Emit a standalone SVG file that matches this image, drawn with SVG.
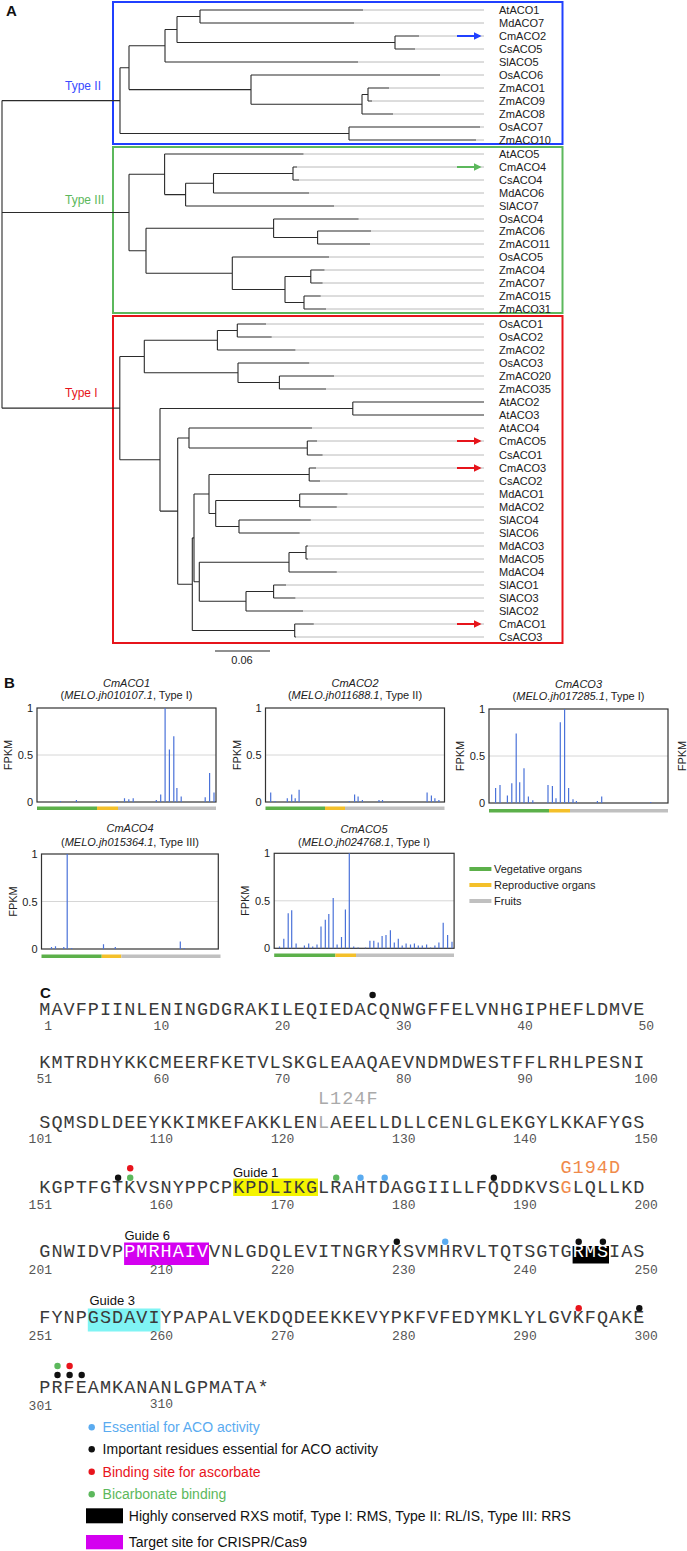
<svg xmlns="http://www.w3.org/2000/svg" width="687" height="1551" viewBox="0 0 687 1551">
<defs>
<style>
.pl{font-family:"Liberation Sans",Arial,sans-serif;font-weight:bold;font-size:15px;fill:#111}
.lab{font-family:"Liberation Sans",Arial,sans-serif;font-size:11px;fill:#222}
.typ{font-family:"Liberation Sans",Arial,sans-serif;font-size:12px}
.br{stroke:#2b2b2b;stroke-width:1.1;fill:none}
.gr{stroke:#bababa;stroke-width:1;fill:none}
.box{fill:none;stroke-width:2}
.frame{fill:none;stroke:#333;stroke-width:1.2}
.grid{stroke:#d6d6d6;stroke-width:1}
.bar{stroke:#4a72d9;stroke-width:1.2;fill:none}
.ax{font-family:"Liberation Sans",Arial,sans-serif;font-size:11px;fill:#222;text-anchor:end}
.fp{font-family:"Liberation Sans",Arial,sans-serif;font-size:11px;fill:#222;text-anchor:middle}
.tt{font-family:"Liberation Sans",Arial,sans-serif;font-size:11px;fill:#222;text-anchor:middle}
.it{font-style:italic}
.veg{fill:#5cb04a}.rep{fill:#f4c02a}.fru{fill:#c0c0c0}
.seq{font-family:"Liberation Mono","Courier New",monospace;font-size:18.5px;letter-spacing:1.02px;fill:#3a3a3a}
.num{font-family:"Liberation Mono","Courier New",monospace;font-size:13px;fill:#555;text-anchor:middle}
.num .f{text-anchor:end}
.gd{font-family:"Liberation Sans",Arial,sans-serif;font-size:13px;fill:#111}
.leg{font-family:"Liberation Sans",Arial,sans-serif;font-size:14px}
.dk{fill:#111}.db{fill:#5aabf0}.dr{fill:#e8141c}.dg{fill:#5cb85c}
.w{fill:#fff}
.arB{stroke:#2040ff;stroke-width:2;marker-end:url(#ahB)}
.arG{stroke:#5cb85c;stroke-width:2;marker-end:url(#ahG)}
.arR{stroke:#e6141b;stroke-width:2;marker-end:url(#ahR)}
</style>
<marker id="ahB" viewBox="0 0 10 10" refX="8" refY="5" markerWidth="4" markerHeight="4" orient="auto"><path d="M0,0L10,5L0,10z" fill="#2040ff"/></marker>
<marker id="ahG" viewBox="0 0 10 10" refX="8" refY="5" markerWidth="4" markerHeight="4" orient="auto"><path d="M0,0L10,5L0,10z" fill="#5cb85c"/></marker>
<marker id="ahR" viewBox="0 0 10 10" refX="8" refY="5" markerWidth="4" markerHeight="4" orient="auto"><path d="M0,0L10,5L0,10z" fill="#e6141b"/></marker>
</defs>
<rect width="687" height="1551" fill="#fff"/>

<!-- Panel A -->
<g id="panelA">
<text class="pl" x="6" y="16">A</text>
<rect class="box" x="113" y="2" width="449.5" height="142" stroke="#2040ff"/>
<rect class="box" x="113" y="147" width="449.5" height="166" stroke="#5cb85c"/>
<rect class="box" x="113" y="316" width="449.5" height="327" stroke="#e6141b"/>
<text class="typ" x="65" y="90" fill="#3a4cff">Type II</text>
<text class="typ" x="65" y="204" fill="#5cb85c">Type III</text>
<text class="typ" x="65" y="397" fill="#e6141b">Type I</text>
<g id="connectors">
<path class="gr" d="M363 10H484M354 23H484M419 36H484M415 49H484M358 62H484M440 75H484M389 88H484M372 101H484M393 114H484M480 127H484M476 140H484M303.5 154H484M297 167H484M299 180H484M309 193H484M334 206H484M358.6 219H484M371 231H484M370 244H484M329 257H484M324.5 270H484M322.6 283H484M320.7 296H484M326 309H484M266 324H484M271.7 337H484M295.4 350H484M309.2 363H484M334 376H484M326 389H484M312 428H484M317 441H484M322.6 455H484M316 468H484M320 481H484M347.5 494H484M336.8 507H484M310.8 520H484M299.7 533H484M308 546H484M308 559H484M336.8 572H484M286 585H484M295.4 598H484M303 611H484M313.8 624H484M296 637H484"/>
<path class="br" d="M200 10V23M200 10H363M200 23H354M395 36V49M395 36H419M395 49H415M177 16.5V42.5M177 16.5H200M177 42.5H395M165 29.5V62M165 29.5H177M165 62H358M368 88V101M368 88H389M368 101H372M362 94.5V114M362 94.5H368M362 114H393M251 75V104.25M251 75H440M251 104.25H362M129 45.75V89.6M129 45.75H165M129 89.6H251M349 127V140M349 127H480M349 140H476M120 67.7V133.5M120 67.7H129M120 133.5H349M2 100.6H120"/>
<path class="br" d="M293 167V180M293 167H297M293 180H299M213.5 173.5V193M213.5 173.5H293M213.5 193H309M185.6 183.25V206M185.6 183.25H213.5M185.6 206H334M164.6 154V194.6M164.6 154H303.5M164.6 194.6H185.6M317.6 231V244M317.6 231H371M317.6 244H370M273.6 219V237.5M273.6 219H358.6M273.6 237.5H317.6M310.8 270V283M310.8 270H324.5M310.8 283H322.6M304 296V309M304 296H320.7M304 309H326M285 276.5V302.5M285 276.5H310.8M285 302.5H304M232.3 257V289.5M232.3 257H329M232.3 289.5H285M146 228.25V273.25M146 228.25H273.6M146 273.25H232.3M129 174.3V250.75M129 174.3H164.6M129 250.75H146M2 212.5H129"/>
<path class="br" d="M237.3 324V337M237.3 324H266M237.3 337H271.7M217.4 330.5V350M217.4 330.5H237.3M217.4 350H295.4M279.4 376V389M279.4 376H334M279.4 389H326M238 363V382.5M238 363H309.2M238 382.5H279.4M144.3 340.25V372.75M144.3 340.25H217.4M144.3 372.75H238M352.8 402V415M352.8 402H484M352.8 415H484M307.3 441V455M307.3 441H317M307.3 455H322.6M189 428V448M189 428H312M189 448H307.3M309.2 468V481M309.2 468H316M309.2 481H320M299.7 494V507M299.7 494H347.5M299.7 507H336.8M239 520V533M239 520H310.8M239 533H299.7M215.7 500.5V526.5M215.7 500.5H299.7M215.7 526.5H239M209 474.5V513.5M209 474.5H309.2M209 513.5H215.7M306 546V559M306 546H308M306 559H308M289 552.5V572M289 552.5H306M289 572H336.8M273.6 585V598M273.6 585H286M273.6 598H295.4M246 591.5V611M246 591.5H273.6M246 611H303M199.3 562.25V601.25M199.3 562.25H289M199.3 601.25H246M194 494V581.75M194 494H209M194 581.75H199.3M294.7 624V637M294.7 624H313.8M294.7 637H296M192.3 537.9V630.5M192.3 537.9H194M192.3 630.5H294.7M177.7 438V584.2M177.7 438H189M177.7 584.2H192.3M160 408.5V511.1M160 408.5H352.8M160 511.1H177.7M119.8 356.5V459.8M119.8 356.5H144.3M119.8 459.8H160M2 408.15H119.8M2 100.6V408.15"/>
<path class="arB" d="M457 36H480"/>
<path class="arG" d="M457 167H480"/>
<path class="arR" d="M457 441H480"/>
<path class="arR" d="M457 468H480"/>
<path class="arR" d="M457 624H480"/>
<path d="M215 651H270" stroke="#222" stroke-width="1.2"/>
</g>
<text class="tt" x="242" y="664">0.06</text>
<g class="lab">
<g id="n-AtACO1"><text x="499" y="14">AtACO1</text></g>
<g id="n-MdACO7"><text x="499" y="27">MdACO7</text></g>
<g id="n-CmACO2"><text x="499" y="40">CmACO2</text></g>
<g id="n-CsACO5"><text x="499" y="53">CsACO5</text></g>
<g id="n-SlACO5"><text x="499" y="66">SlACO5</text></g>
<g id="n-OsACO6"><text x="499" y="79">OsACO6</text></g>
<g id="n-ZmACO1"><text x="499" y="92">ZmACO1</text></g>
<g id="n-ZmACO9"><text x="499" y="105">ZmACO9</text></g>
<g id="n-ZmACO8"><text x="499" y="118">ZmACO8</text></g>
<g id="n-OsACO7"><text x="499" y="131">OsACO7</text></g>
<g id="n-ZmACO10"><text x="499" y="144">ZmACO10</text></g>
<g id="n-AtACO5"><text x="499" y="158">AtACO5</text></g>
<g id="n-CmACO4"><text x="499" y="171">CmACO4</text></g>
<g id="n-CsACO4"><text x="499" y="184">CsACO4</text></g>
<g id="n-MdACO6"><text x="499" y="197">MdACO6</text></g>
<g id="n-SlACO7"><text x="499" y="210">SlACO7</text></g>
<g id="n-OsACO4"><text x="499" y="223">OsACO4</text></g>
<g id="n-ZmACO6"><text x="499" y="235">ZmACO6</text></g>
<g id="n-ZmACO11"><text x="499" y="248">ZmACO11</text></g>
<g id="n-OsACO5"><text x="499" y="261">OsACO5</text></g>
<g id="n-ZmACO4"><text x="499" y="274">ZmACO4</text></g>
<g id="n-ZmACO7"><text x="499" y="287">ZmACO7</text></g>
<g id="n-ZmACO15"><text x="499" y="300">ZmACO15</text></g>
<g id="n-ZmACO31"><text x="499" y="313">ZmACO31</text></g>
<g id="n-OsACO1"><text x="499" y="328">OsACO1</text></g>
<g id="n-OsACO2"><text x="499" y="341">OsACO2</text></g>
<g id="n-ZmACO2"><text x="499" y="354">ZmACO2</text></g>
<g id="n-OsACO3"><text x="499" y="367">OsACO3</text></g>
<g id="n-ZmACO20"><text x="499" y="380">ZmACO20</text></g>
<g id="n-ZmACO35"><text x="499" y="393">ZmACO35</text></g>
<g id="n-AtACO2"><text x="499" y="406">AtACO2</text></g>
<g id="n-AtACO3"><text x="499" y="419">AtACO3</text></g>
<g id="n-AtACO4"><text x="499" y="432">AtACO4</text></g>
<g id="n-CmACO5"><text x="499" y="445">CmACO5</text></g>
<g id="n-CsACO1"><text x="499" y="459">CsACO1</text></g>
<g id="n-CmACO3"><text x="499" y="472">CmACO3</text></g>
<g id="n-CsACO2"><text x="499" y="485">CsACO2</text></g>
<g id="n-MdACO1"><text x="499" y="498">MdACO1</text></g>
<g id="n-MdACO2"><text x="499" y="511">MdACO2</text></g>
<g id="n-SlACO4"><text x="499" y="524">SlACO4</text></g>
<g id="n-SlACO6"><text x="499" y="537">SlACO6</text></g>
<g id="n-MdACO3"><text x="499" y="550">MdACO3</text></g>
<g id="n-MdACO5"><text x="499" y="563">MdACO5</text></g>
<g id="n-MdACO4"><text x="499" y="576">MdACO4</text></g>
<g id="n-SlACO1"><text x="499" y="589">SlACO1</text></g>
<g id="n-SlACO3"><text x="499" y="602">SlACO3</text></g>
<g id="n-SlACO2"><text x="499" y="615">SlACO2</text></g>
<g id="n-CmACO1"><text x="499" y="628">CmACO1</text></g>
<g id="n-CsACO3"><text x="499" y="641">CsACO3</text></g>
</g>
</g>

<!-- Panel B -->
<g id="panelB">
<text class="pl" x="4" y="688">B</text>
<g id="chart1">
<text class="tt it" x="126.5" y="686.5">CmACO1</text>
<text class="tt" x="126.5" y="699">(<tspan class="it">MELO.jh010107.1</tspan>, Type I)</text>
<line class="grid" x1="37" y1="755" x2="216" y2="755"/>
<rect class="frame" x="37" y="708" width="179" height="94"/>
<path class="bar" d="M60.3 802V801.1M76.4 802V800.1M117 802V801.1M124.5 802V798.2M128.8 802V799.2M133.2 802V798.2M156.3 802V800.1M160.7 802V794.5M165.1 802V708M169.4 802V749.4M173.8 802V736.2M176.9 802V787.9M181.2 802V796.4M205.2 802V797.3M209.6 802V772.9M214 802V792.6"/>
<text class="ax" x="33" y="712">1</text><text class="ax" x="33" y="759">0.5</text><text class="ax" x="33" y="806">0</text>
<text class="fp" transform="translate(12 755) rotate(-90)">FPKM</text>
<rect class="veg" x="37" y="806.5" width="60" height="3.5"/><rect class="rep" x="97" y="806.5" width="21" height="3.5"/><rect class="fru" x="118" y="806.5" width="98" height="3.5"/>
</g>
<g id="chart2">
<text class="tt it" x="355" y="686.5">CmACO2</text>
<text class="tt" x="355" y="699">(<tspan class="it">MELO.jh011688.1</tspan>, Type II)</text>
<line class="grid" x1="265.5" y1="755" x2="444.5" y2="755"/>
<rect class="frame" x="265.5" y="708" width="179" height="94"/>
<path class="bar" d="M270.7 802V792.6M275.1 802V801.1M287.3 802V798.2M291.7 802V794.5M295.2 802V798.2M299.1 802V789.8M349.3 802V801.1M354.6 802V794.5M358.1 802V796.4M362.4 802V800.1M379 802V800.1M382.5 802V800.1M427.1 802V792.6M431.4 802V795.4M434.9 802V798.2M438.9 802V800.1"/>
<text class="ax" x="261.5" y="712">1</text><text class="ax" x="261.5" y="759">0.5</text><text class="ax" x="261.5" y="806">0</text>
<text class="fp" transform="translate(240.5 755) rotate(-90)">FPKM</text>
<rect class="veg" x="265.5" y="806.5" width="59.5" height="3.5"/><rect class="rep" x="325" y="806.5" width="20" height="3.5"/><rect class="fru" x="345" y="806.5" width="99.5" height="3.5"/>
</g>
<g id="chart3">
<text class="tt it" x="578.5" y="687.5">CmACO3</text>
<text class="tt" x="578.5" y="700">(<tspan class="it">MELO.jh017285.1</tspan>, Type I)</text>
<line class="grid" x1="489" y1="756" x2="668" y2="756"/>
<rect class="frame" x="489" y="709" width="179" height="94"/>
<path class="bar" d="M495.6 803V788M500 803V785.1M507.4 803V795.5M511.8 803V783.3M516.2 803V733.4M519.7 803V782.3M524 803V768.2M528.4 803V796.4M532.8 803V800.2M548 803V785.1M552.4 803V786.1M556 803V798.3M560.3 803V722.2M564.6 803V709M568.6 803V788M573 803V799.2M576.4 803V801.1M597.4 803V801.1M601.7 803V796.4M650.7 803V802.1"/>
<text class="ax" x="485" y="713">1</text><text class="ax" x="485" y="760">0.5</text><text class="ax" x="485" y="807">0</text>
<text class="fp" transform="translate(464 756) rotate(-90)">FPKM</text>
<rect class="veg" x="489" y="809" width="60" height="3.5"/><rect class="rep" x="549" y="809" width="21" height="3.5"/><rect class="fru" x="570" y="809" width="98" height="3.5"/>
</g>
<text class="fp" transform="translate(686 756) rotate(-90)">FPKM</text>
<g id="chart4">
<text class="tt it" x="130" y="831.5">CmACO4</text>
<text class="tt" x="130" y="846">(<tspan class="it">MELO.jh015364.1</tspan>, Type III)</text>
<line class="grid" x1="41.5" y1="901.5" x2="218.3" y2="901.5"/>
<rect class="frame" x="41.5" y="854" width="176.8" height="95"/>
<path class="bar" d="M51.5 949V947.1M55.5 949V946.2M63.8 949V947.1M67.2 949V854M71.6 949V948M103.5 949V944.3M115.3 949V947.1M180.3 949V941.4M184.3 949V948"/>
<text class="ax" x="37.5" y="858">1</text><text class="ax" x="37.5" y="905.5">0.5</text><text class="ax" x="37.5" y="953">0</text>
<text class="fp" transform="translate(16.5 901.5) rotate(-90)">FPKM</text>
<rect class="veg" x="41.5" y="954.5" width="60.2" height="3.5"/><rect class="rep" x="101.7" y="954.5" width="19.7" height="3.5"/><rect class="fru" x="121.4" y="954.5" width="99.1" height="3.5"/>
</g>
<g id="chart5">
<text class="tt it" x="364" y="833">CmACO5</text>
<text class="tt" x="364" y="846">(<tspan class="it">MELO.jh024768.1</tspan>, Type I)</text>
<line class="grid" x1="274.2" y1="900.8" x2="454.1" y2="900.8"/>
<rect class="frame" x="274.2" y="853.3" width="179.9" height="95"/>
<path class="bar" d="M279.5 948.3V946.4M283.8 948.3V938.8M288.2 948.3V913.2M291.7 948.3V910.3M296.1 948.3V943.6M304.4 948.3V945.5M308.7 948.3V943.6M312.7 948.3V946.4M317 948.3V944.5M321 948.3V926.5M325.3 948.3V919.8M328.8 948.3V914.1M333.2 948.3V898M337.1 948.3V944.5M341.5 948.3V936.9M345.4 948.3V909.4M349.3 948.3V853.3M353.7 948.3V946.4M358.1 948.3V947.4M365.5 948.3V947.4M369.9 948.3V940.7M373.8 948.3V940.7M378.2 948.3V942.6M382.1 948.3V936M386 948.3V935M390.4 948.3V930.3M394.3 948.3V942.6M398.3 948.3V938.8M402.2 948.3V945.5M406.1 948.3V943.6M410.5 948.3V944.5M414.4 948.3V943.6M418.3 948.3V945.5M422.3 948.3V945.5M426.6 948.3V944.5M430.6 948.3V947.4M434.9 948.3V945.5M438.9 948.3V942.6M443.2 948.3V922.7M447.6 948.3V935M452 948.3V941.7"/>
<text class="ax" x="270.2" y="857.3">1</text><text class="ax" x="270.2" y="904.8">0.5</text><text class="ax" x="270.2" y="952.3">0</text>
<text class="fp" transform="translate(249 900.8) rotate(-90)">FPKM</text>
<rect class="veg" x="274.2" y="953.5" width="61.2" height="3.5"/><rect class="rep" x="335.4" y="953.5" width="20.6" height="3.5"/><rect class="fru" x="356" y="953.5" width="98" height="3.5"/>
</g>
<g id="legendB" class="lab">
<rect class="veg" x="469.4" y="867" width="22" height="4"/><text x="494" y="873">Vegetative organs</text>
<rect class="rep" x="469.4" y="883" width="22" height="4"/><text x="494" y="889">Reproductive organs</text>
<rect class="fru" x="469.4" y="899" width="22" height="4"/><text x="494" y="905">Fruits</text>
</g>
</g>

<!-- Panel C -->
<g id="panelC">
<text class="pl" x="40" y="998">C</text>
<rect x="233.2" y="1178.5" width="84.8" height="17.5" fill="#f4f400"/>
<rect x="124.1" y="1242.5" width="84.9" height="22.5" fill="#d400f0"/>
<rect x="572.6" y="1246" width="36.4" height="17.5" fill="#000"/>
<rect x="87.8" y="1308.5" width="72.7" height="23" fill="#7ff4f4"/>
<text class="gd" x="233" y="1176.5">Guide 1</text>
<text class="gd" x="124.5" y="1239.5">Guide 6</text>
<text class="gd" x="89.5" y="1305">Guide 3</text>
<g class="seq">
<text x="39.3" y="1015">MAVFPIINLENINGDGRAKILEQIEDACQNWGFFELVNHGIPHEFLDMVE</text>
<text x="39.3" y="1068">KMTRDHYKKCMEERFKETVLSKGLEAAQAEVNDMDWESTFFLRHLPESNI</text>
<text x="318" y="1104" fill="#aaa">L124F</text>
<text x="39.3" y="1128.3">SQMSDLDEEYKKIMKEFAKKLEN<tspan fill="#aaa">L</tspan>AEELLDLLCENLGLEKGYLKKAFYGS</text>
<text x="560.5" y="1172.5" fill="#f08a4b">G194D</text>
<text x="39.3" y="1193.3">KGPTFGTKVSNYPPCPKPDLIKGLRAHTDAGGIILLFQDDKVS<tspan fill="#f08a4b">G</tspan>LQLLKD</text>
<text x="39.3" y="1257.3">GNWIDVP<tspan class="w">PMRHAIV</tspan>VNLGDQLEVITNGRYKSVMHRVLTQTSGTG<tspan class="w">RMS</tspan>IAS</text>
<text x="39.3" y="1323.3">FYNPGSDAVIYPAPALVEKDQDEEKKEVYPKFVFEDYMKLYLGVKFQAKE</text>
<text x="39.3" y="1393.3">PRFEAMKANANLGPMATA*</text>
</g>
<g class="num">
<text class="f" x="52" y="1029.5">1</text><text x="161.4" y="1029.5">10</text><text x="282.6" y="1029.5">20</text><text x="403.8" y="1029.5">30</text><text x="525" y="1029.5">40</text><text x="646.2" y="1029.5">50</text>
<text class="f" x="52" y="1082.5">51</text><text x="161.4" y="1082.5">60</text><text x="282.6" y="1082.5">70</text><text x="403.8" y="1082.5">80</text><text x="525" y="1082.5">90</text><text x="646.2" y="1082.5">100</text>
<text class="f" x="52" y="1143">101</text><text x="161.4" y="1143">110</text><text x="282.6" y="1143">120</text><text x="403.8" y="1143">130</text><text x="525" y="1143">140</text><text x="646.2" y="1143">150</text>
<text class="f" x="52" y="1209">151</text><text x="161.4" y="1209">160</text><text x="282.6" y="1209">170</text><text x="403.8" y="1209">180</text><text x="525" y="1209">190</text><text x="646.2" y="1209">200</text>
<text class="f" x="52" y="1274">201</text><text x="161.4" y="1274">210</text><text x="282.6" y="1274">220</text><text x="403.8" y="1274">230</text><text x="525" y="1274">240</text><text x="646.2" y="1274">250</text>
<text class="f" x="52" y="1340">251</text><text x="161.4" y="1340">260</text><text x="282.6" y="1340">270</text><text x="403.8" y="1340">280</text><text x="525" y="1340">290</text><text x="646.2" y="1340">300</text>
<text class="f" x="52" y="1410">301</text><text x="161.4" y="1408">310</text>
</g>
<g id="residue-dots">
<circle class="dk" cx="372.6" cy="995" r="3.2"/>
<circle class="dk" cx="118.1" cy="1177.7" r="3.2"/><circle class="dg" cx="130.2" cy="1177.7" r="3.2"/><circle class="dr" cx="130.2" cy="1168.3" r="3.2"/>
<circle class="dg" cx="336.2" cy="1177.7" r="3.2"/><circle class="db" cx="360.5" cy="1177.7" r="3.2"/><circle class="db" cx="384.7" cy="1177.7" r="3.2"/><circle class="dk" cx="493.8" cy="1177.7" r="3.2"/>
<circle class="dk" cx="396.8" cy="1241.7" r="3.2"/><circle class="db" cx="445.2" cy="1241.7" r="3.2"/><circle class="dk" cx="578.7" cy="1241.7" r="3.2"/><circle class="dk" cx="602.9" cy="1241.7" r="3.2"/>
<circle class="dr" cx="578.7" cy="1308.3" r="3.2"/><circle class="dk" cx="639.3" cy="1308.3" r="3.2"/>
<circle class="dg" cx="57.5" cy="1366" r="3.2"/><circle class="dr" cx="69.6" cy="1366" r="3.2"/>
<circle class="dk" cx="57.5" cy="1375" r="3.2"/><circle class="dk" cx="69.6" cy="1375" r="3.2"/><circle class="dk" cx="81.7" cy="1375" r="3.2"/>
</g>
<g id="legendC" class="leg">
<circle class="db" cx="91.7" cy="1427.3" r="3.2"/><text x="102.6" y="1432" fill="#5aabf0">Essential for ACO activity</text>
<circle class="dk" cx="91.7" cy="1449.3" r="3.2"/><text x="102.6" y="1454" fill="#111">Important residues essential for ACO activity</text>
<circle class="dr" cx="91.7" cy="1471.7" r="3.2"/><text x="102.6" y="1476.5" fill="#e8141c">Binding site for ascorbate</text>
<circle class="dg" cx="91.7" cy="1494.3" r="3.2"/><text x="102.6" y="1499" fill="#5cb85c">Bicarbonate binding</text>
<rect x="86" y="1508.3" width="37" height="15" fill="#000"/><text x="128.8" y="1521" fill="#111">Highly conserved RXS motif, Type I: RMS, Type II: RL/IS, Type III: RRS</text>
<rect x="86" y="1535" width="37" height="14.3" fill="#d400f0"/><text x="128.8" y="1547" fill="#111">Target site for CRISPR/Cas9</text>
</g>
</g>
</svg>
